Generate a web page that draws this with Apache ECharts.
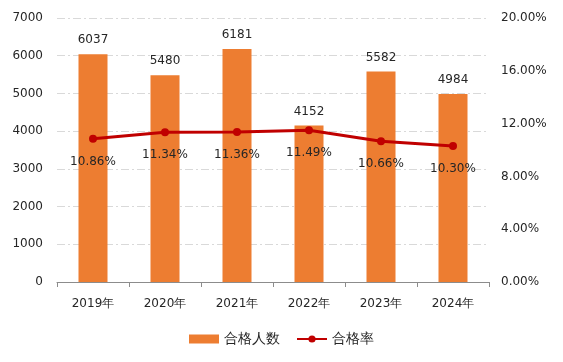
<!DOCTYPE html>
<html><head><meta charset="utf-8">
<script src="https://cdn.jsdelivr.net/npm/echarts@6/dist/echarts.min.js"></script>
<style>html,body{margin:0;padding:0;background:#fff}#c{width:563px;height:362px}</style>
</head><body><div id="c"></div>
<script>
const categories = ['2019年','2020年','2021年','2022年','2023年','2024年'];
const passCount = [6037, 5480, 6181, 4152, 5582, 4984];
const passRate = [10.86, 11.34, 11.36, 11.49, 10.66, 10.30];
const leftTicks = {min: 0, max: 7000, interval: 1000};
const rightTicks = {min: 0, max: 20, interval: 4};

const font = 'DejaVu Sans, sans-serif';
const txt = '#262626';
const chart = echarts.init(document.getElementById('c'), null, {renderer: 'canvas'});
chart.setOption({
  animation: false,
  textStyle: {fontFamily: font},
  grid: {left: 57, right: 74, top: 18, bottom: 80, containLabel: false},
  legend: {
    bottom: 11, left: 'center', itemGap: 16,
    textStyle: {fontFamily: font, fontSize: 14, color: txt},
    data: [
      {name: '合格人数', icon: 'rect', itemStyle: {color: '#ED7D31'}},
      {name: '合格率'}
    ],
    itemWidth: 30, itemHeight: 9
  },
  xAxis: {
    type: 'category', data: categories,
    axisLine: {lineStyle: {color: '#8c8c8c', width: 1}},
    axisTick: {show: true, alignWithLabel: false, length: 5, lineStyle: {color: '#8c8c8c'}},
    axisLabel: {color: txt, fontSize: 12, margin: 16, fontFamily: font}
  },
  yAxis: [
    {
      type: 'value', min: leftTicks.min, max: leftTicks.max, interval: leftTicks.interval,
      axisLine: {show: false}, axisTick: {show: false},
      axisLabel: {color: txt, fontSize: 12, margin: 14, fontFamily: font, formatter: v => String(v)},
      splitLine: {lineStyle: {color: '#d9d9d9', type: [8, 3, 2, 3], width: 1}}
    },
    {
      type: 'value', min: rightTicks.min, max: rightTicks.max, interval: rightTicks.interval,
      axisLine: {show: false}, axisTick: {show: false},
      axisLabel: {color: txt, fontSize: 12, margin: 12, fontFamily: font,
        formatter: v => v.toFixed(2) + '%'},
      splitLine: {show: false}
    }
  ],
  series: [
    {
      name: '合格人数', type: 'bar', data: passCount, barWidth: 29,
      itemStyle: {color: '#ED7D31'},
      label: {show: true, position: 'top', distance: 8, color: txt, fontSize: 12, fontFamily: font}
    },
    {
      name: '合格率', type: 'line', yAxisIndex: 1, data: passRate,
      symbol: 'circle', symbolSize: 8,
      lineStyle: {color: '#C00000', width: 3},
      itemStyle: {color: '#C00000'},
      label: {show: true, position: 'bottom', distance: 13, color: txt, fontSize: 12, fontFamily: font,
        formatter: p => p.value.toFixed(2) + '%'}
    }
  ]
});
</script></body></html>
